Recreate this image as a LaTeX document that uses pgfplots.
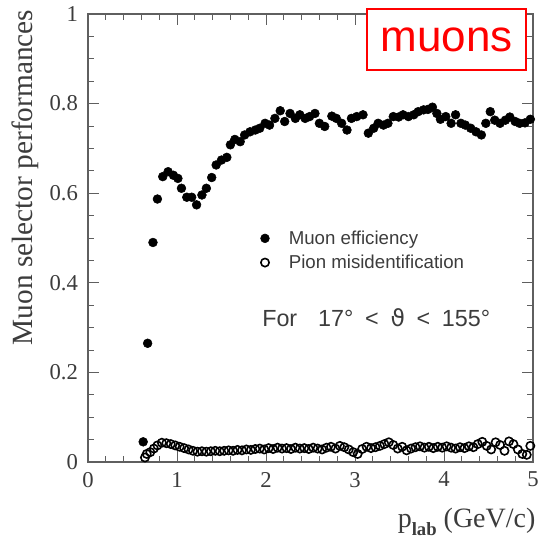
\documentclass[border=0pt]{standalone}
\usepackage{fontspec}
\setmainfont{Liberation Serif}
\newfontfamily\sansf{Liberation Sans}
\newfontfamily\dejavu{DejaVu Sans}
\usepackage{pgfplots}
\pgfplotsset{compat=1.18}
\definecolor{axgray}{RGB}{95,95,95}
\definecolor{txtgray}{RGB}{60,60,60}
\begin{document}
\begin{tikzpicture}
\begin{axis}[
  scale only axis, width=333.75pt, height=336pt,
  xmin=0, xmax=5, ymin=0, ymax=1,
  xtick={0,1,2,3,4,5}, xticklabels={0,1,2,3,4,5},
  ytick={0,0.2,0.4,0.6,0.8,1}, yticklabels={0,0.2,0.4,0.6,0.8,1},
  minor x tick num=4, minor y tick num=3,
  tick align=inside, major tick length=8pt, minor tick length=4.5pt,
  axis line style={axgray, line width=0.8pt},
  every tick/.style={axgray, line width=0.7pt},
  tick label style={font=\fontsize{17}{20}\selectfont, text=txtgray},
  /pgf/number format/assume math mode=true,
  xticklabel style={yshift=-4pt},
  yticklabel style={xshift=-4pt},
  ylabel={Muon selector performances},
  ylabel style={font=\fontsize{22}{25}\selectfont, text=txtgray, at={(axis description cs:-0.142,0.635)}, anchor=center},
  xlabel={p\raisebox{-0.6ex}{\fontsize{14}{14}\selectfont\bfseries lab} (GeV/c)},
  xlabel style={font=\fontsize{21}{24}\selectfont, text=txtgray, at={(axis description cs:1.016,-0.134)}, anchor=east},
  clip=false,
  legend image code/.code={\path (0cm,-0.1cm) (0.85cm,0.1cm); \draw[#1] plot coordinates {(0.3cm,0cm)};},
  legend style={at={(axis cs:1.81,0.529)}, anchor=north west, draw=none, fill=none,
    font=\sansf\fontsize{14}{16}\selectfont, text=txtgray, row sep=2.5pt},
  legend cell align=left,
]
\addplot[only marks, mark=*, mark size=3.3pt, black] coordinates {
(0.62,0.045) (0.67,0.265) (0.73,0.49) (0.78,0.587) (0.84,0.637) (0.90,0.648)
(0.96,0.640) (1.01,0.633) (1.05,0.611) (1.11,0.591) (1.165,0.591) (1.22,0.574)
(1.28,0.596) (1.33,0.611) (1.39,0.635) (1.44,0.663) (1.50,0.674) (1.56,0.680)
(1.60,0.708) (1.65,0.720) (1.71,0.715) (1.76,0.730) (1.82,0.737) (1.88,0.741)
(1.93,0.745) (1.99,0.756) (2.04,0.752) (2.10,0.767) (2.16,0.784) (2.21,0.760)
(2.27,0.778) (2.33,0.767) (2.38,0.775) (2.44,0.767) (2.49,0.771) (2.55,0.778)
(2.60,0.756) (2.66,0.749) (2.74,0.772) (2.79,0.767) (2.85,0.756) (2.91,0.741)
(2.96,0.767) (3.02,0.771) (3.09,0.775) (3.15,0.734) (3.21,0.745) (3.26,0.756)
(3.32,0.752) (3.37,0.756) (3.43,0.771) (3.49,0.770) (3.54,0.775) (3.60,0.771)
(3.66,0.775) (3.71,0.782) (3.77,0.786) (3.82,0.787) (3.87,0.792) (3.92,0.778)
(3.96,0.765) (4.02,0.771) (4.08,0.756) (4.13,0.775) (4.19,0.756) (4.24,0.752)
(4.30,0.745) (4.36,0.737) (4.42,0.730) (4.47,0.756) (4.52,0.782) (4.57,0.763)
(4.63,0.756) (4.69,0.763) (4.74,0.770) (4.80,0.760) (4.85,0.756) (4.91,0.757)
(4.97,0.765)
};
\addlegendentry{Muon efficiency}
\addplot[only marks, mark=o, mark size=3.1pt, black, mark options={line width=1.2pt}] coordinates {
(0.64,0.010) (0.66,0.018) (0.70,0.022) (0.74,0.030) (0.78,0.037) (0.83,0.043)
(0.88,0.042) (0.93,0.040) (0.98,0.037) (1.03,0.034) (1.08,0.031) (1.13,0.028)
(1.18,0.025) (1.23,0.023) (1.28,0.024) (1.33,0.023) (1.38,0.024) (1.43,0.025)
(1.48,0.024) (1.53,0.025) (1.58,0.026) (1.63,0.025) (1.68,0.027) (1.73,0.026)
(1.78,0.028) (1.83,0.027) (1.88,0.029) (1.93,0.030) (1.98,0.028) (2.03,0.031)
(2.08,0.029) (2.13,0.032) (2.18,0.030) (2.23,0.031) (2.28,0.029) (2.33,0.032)
(2.38,0.030) (2.43,0.031) (2.48,0.029) (2.53,0.032) (2.58,0.030) (2.63,0.028)
(2.68,0.032) (2.73,0.034) (2.78,0.030) (2.83,0.036) (2.88,0.033) (2.93,0.028)
(2.98,0.022) (3.03,0.018) (3.08,0.029) (3.13,0.034) (3.18,0.031) (3.23,0.033)
(3.28,0.036) (3.33,0.040) (3.38,0.044) (3.43,0.038) (3.48,0.030) (3.53,0.034)
(3.58,0.026) (3.63,0.030) (3.68,0.033) (3.73,0.035) (3.78,0.032) (3.83,0.034)
(3.88,0.031) (3.93,0.034) (3.98,0.032) (4.03,0.035) (4.08,0.032) (4.13,0.030)
(4.18,0.033) (4.23,0.031) (4.28,0.035) (4.33,0.033) (4.38,0.040) (4.43,0.045)
(4.48,0.036) (4.53,0.028) (4.58,0.044) (4.63,0.038) (4.68,0.025) (4.73,0.046)
(4.78,0.040) (4.83,0.028) (4.88,0.018) (4.93,0.016) (4.97,0.036)
};
\addlegendentry{Pion misidentification}
\node[anchor=west, font=\sansf\fontsize{17.5}{20}\selectfont, text=txtgray, inner sep=0pt]
  at (axis cs:1.955,0.323) {For\hspace{0.9em}17°\hspace{0.5em}<\hspace{0.5em}{\dejavu ϑ}\hspace{0.5em}<\hspace{0.5em}155°};
\coordinate (boxc) at (axis cs:4.028,0.943);
\end{axis}
\node[draw=red, line width=1.5pt, fill=white, minimum width=119pt, minimum height=46pt,
  text=red, font=\sansf\fontsize{33}{36}\selectfont, inner sep=0pt] at (boxc) {muons};
\pgfresetboundingbox
\useasboundingbox (-66pt,-58.5pt) rectangle (336.75pt,346.5pt);
\end{tikzpicture}
\end{document}
